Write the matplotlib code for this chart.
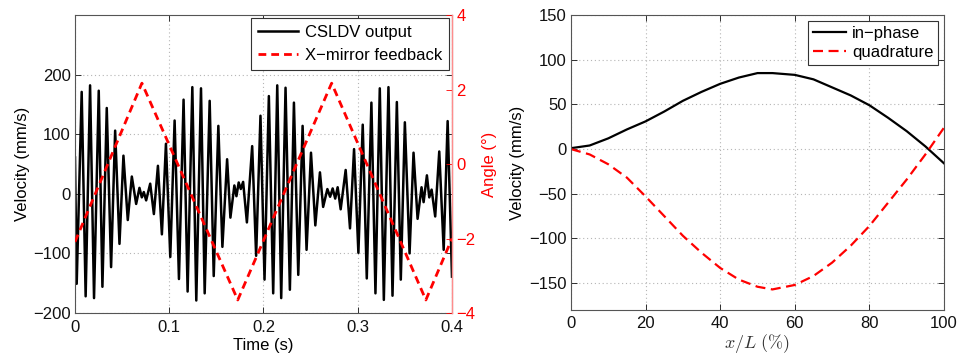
import matplotlib.pyplot as plt
import numpy as np

plt.rcParams['font.family'] = ['Liberation Sans', 'DejaVu Sans']
plt.rcParams['mathtext.fontset'] = 'cm'

# CSLDV velocity record, sampled at its local peaks/troughs
time_s = [0.0000, 0.0018, 0.0071, 0.0113, 0.0160, 0.0202, 0.0252, 0.0291, 0.0337, 0.0383,
          0.0426, 0.0472, 0.0514, 0.0560, 0.0603, 0.0649, 0.0684, 0.0709, 0.0730, 0.0755,
          0.0798, 0.0837, 0.0880, 0.0922, 0.0965, 0.1011, 0.1057, 0.1103, 0.1152, 0.1195,
          0.1245, 0.1287, 0.1337, 0.1376, 0.1429, 0.1472, 0.1521, 0.1564, 0.1614, 0.1649,
          0.1691, 0.1713, 0.1737, 0.1759, 0.1784, 0.1824, 0.1880, 0.1922, 0.1968, 0.2011,
          0.2057, 0.2103, 0.2146, 0.2188, 0.2234, 0.2280, 0.2323, 0.2369, 0.2415, 0.2457,
          0.2504, 0.2550, 0.2599, 0.2633, 0.2678, 0.2707, 0.2734, 0.2761, 0.2787, 0.2819,
          0.2872, 0.2918, 0.2961, 0.3007, 0.3053, 0.3096, 0.3145, 0.3188, 0.3234, 0.3277,
          0.3326, 0.3369, 0.3415, 0.3457, 0.3500, 0.3550, 0.3592, 0.3635, 0.3677, 0.3699,
          0.3734, 0.3759, 0.3784, 0.3822, 0.3865, 0.3912, 0.3954, 0.4000]
velocity = [61, -151, 171, -172, 182, -175, 173, -156, 144, -123,
            106, -84, 64, -44, 29, -17, 10, -6, 3, -11,
            17, -34, 47, -68, 84, -106, 123, -143, 158, -164,
            179, -179, 177, -167, 156, -138, 114, -89, 58, -40,
            14, -4, 19, 8, 20, -48, 80, -104, 131, -144,
            164, -167, 182, -175, 178, -161, 153, -136, 114, -94,
            69, -53, 36, -22, 8, -5, 9, -8, 11, -26,
            40, -58, 75, -99, 116, -142, 153, -167, 177, -178,
            179, -171, 154, -144, 120, -100, 69, -42, 11, -14,
            31, -6, 7, -38, 71, -94, 122, -139]

# X-mirror drive (triangle wave corners)
mirror_t = [0.0, 0.071, 0.1727, 0.2723, 0.3723, 0.4]
mirror_deg = [-2.09, 2.17, -3.65, 2.17, -3.65, -2.0]

# demodulated operating deflection shape
pos_pct = [0, 5, 10, 15, 20, 25, 30, 35, 40, 45, 50, 54, 60, 65, 70, 75, 80, 85, 90, 95, 100]
in_phase = [1, 4, 12, 22, 31, 42, 54, 64, 73, 80, 85, 85, 83, 78, 69, 60, 49, 35, 20, 3, -16]
quadrature = [0, -6, -17, -32, -53, -75, -97, -116, -133, -146, -154, -157, -152, -142, -127,
              -108, -86, -60, -34, -6, 24]

fs = 12
spine_c = '#555555'
grid_kw = dict(color='#b5b5b5', linestyle=(0, (1, 2.5)), linewidth=0.8)

fig = plt.figure(figsize=(9.59, 3.55), dpi=100)

# ---------------- left: time record ----------------
ax1 = fig.add_axes([0.0782, 0.1183, 0.3931, 0.8394])
ax2 = ax1.twinx()

l1, = ax1.plot(time_s, velocity, color='k', lw=1.8, solid_joinstyle='round',
               label='CSLDV output')
ax1.set_xlim(0, 0.4)
ax1.set_ylim(-200, 300)
ax1.set_yticks([-200, -100, 0, 100, 200])
ax1.set_xticks([0, 0.1, 0.2, 0.3, 0.4])
ax1.set_xticklabels(['0', '0.1', '0.2', '0.3', '0.4'])
ax1.grid(True, **grid_kw)
ax1.tick_params(direction='in', length=4, width=0.6, labelsize=fs, pad=3,
                top=True, right=True, colors='#111111')
ax1.tick_params(axis='x', pad=5)
ax1.set_xlabel('Time (s)', fontsize=fs, labelpad=2)
ax1.set_ylabel('Velocity (mm/s)', fontsize=fs, labelpad=2)
for s in ax1.spines.values():
    s.set_color(spine_c)
    s.set_linewidth(0.8)

l2, = ax2.plot(mirror_t, mirror_deg, color='#ff0000', lw=2, dashes=(2.8, 1.8),
               label='X\u2212mirror feedback')
ax2.set_ylim(-4, 4)
ax2.set_yticks([-4, -2, 0, 2, 4])
ax2.tick_params(direction='in', length=4, width=0.6, labelsize=fs, pad=3,
                colors='#ff0000')
ax2.set_ylabel('Angle (\u00b0)', fontsize=fs, color='#ff0000', labelpad=5)
for k in ['left', 'top', 'bottom']:
    ax2.spines[k].set_visible(False)
ax2.spines['right'].set_color('#ff8c8c')
ax2.spines['right'].set_linewidth(1.0)

leg = ax2.legend([l1, l2], [l1.get_label(), l2.get_label()], loc='upper right',
                 fontsize=fs, fancybox=False, framealpha=1, edgecolor='#333333',
                 borderaxespad=0.15, handlelength=2.4, handletextpad=0.4,
                 labelspacing=0.45, borderpad=0.45)
leg.get_frame().set_linewidth(0.8)

# ---------------- right: shape along the beam ----------------
ax3 = fig.add_axes([0.5954, 0.1268, 0.389, 0.831])
ax3.plot(pos_pct, in_phase, color='k', lw=1.6, label='in\u2212phase')
ax3.plot(pos_pct, quadrature, color='#ff0000', lw=1.6, dashes=(4.5, 2.5), label='quadrature')
ax3.set_xlim(0, 100)
ax3.set_ylim(-180, 150)
ax3.set_xticks([0, 20, 40, 60, 80, 100])
ax3.set_yticks([-150, -100, -50, 0, 50, 100, 150])
ax3.grid(True, **grid_kw)
ax3.tick_params(direction='in', length=4, width=0.6, labelsize=fs, pad=3,
                top=True, right=True, colors='#111111')
ax3.tick_params(axis='x', pad=4)
ax3.set_xlabel(r'$x/L\ (\%)$', fontsize=13, color='#333333', labelpad=1)
ax3.set_ylabel('Velocity (mm/s)', fontsize=fs, labelpad=3)
for s in ax3.spines.values():
    s.set_color(spine_c)
    s.set_linewidth(0.8)

leg3 = ax3.legend(loc='upper right', fontsize=fs, fancybox=False, framealpha=1,
                  edgecolor='#333333', borderaxespad=0.35, handlelength=2.0,
                  handletextpad=0.35, labelspacing=0.25, borderpad=0.3)
leg3.get_frame().set_linewidth(0.8)

fig.savefig('out.png', dpi=100)
